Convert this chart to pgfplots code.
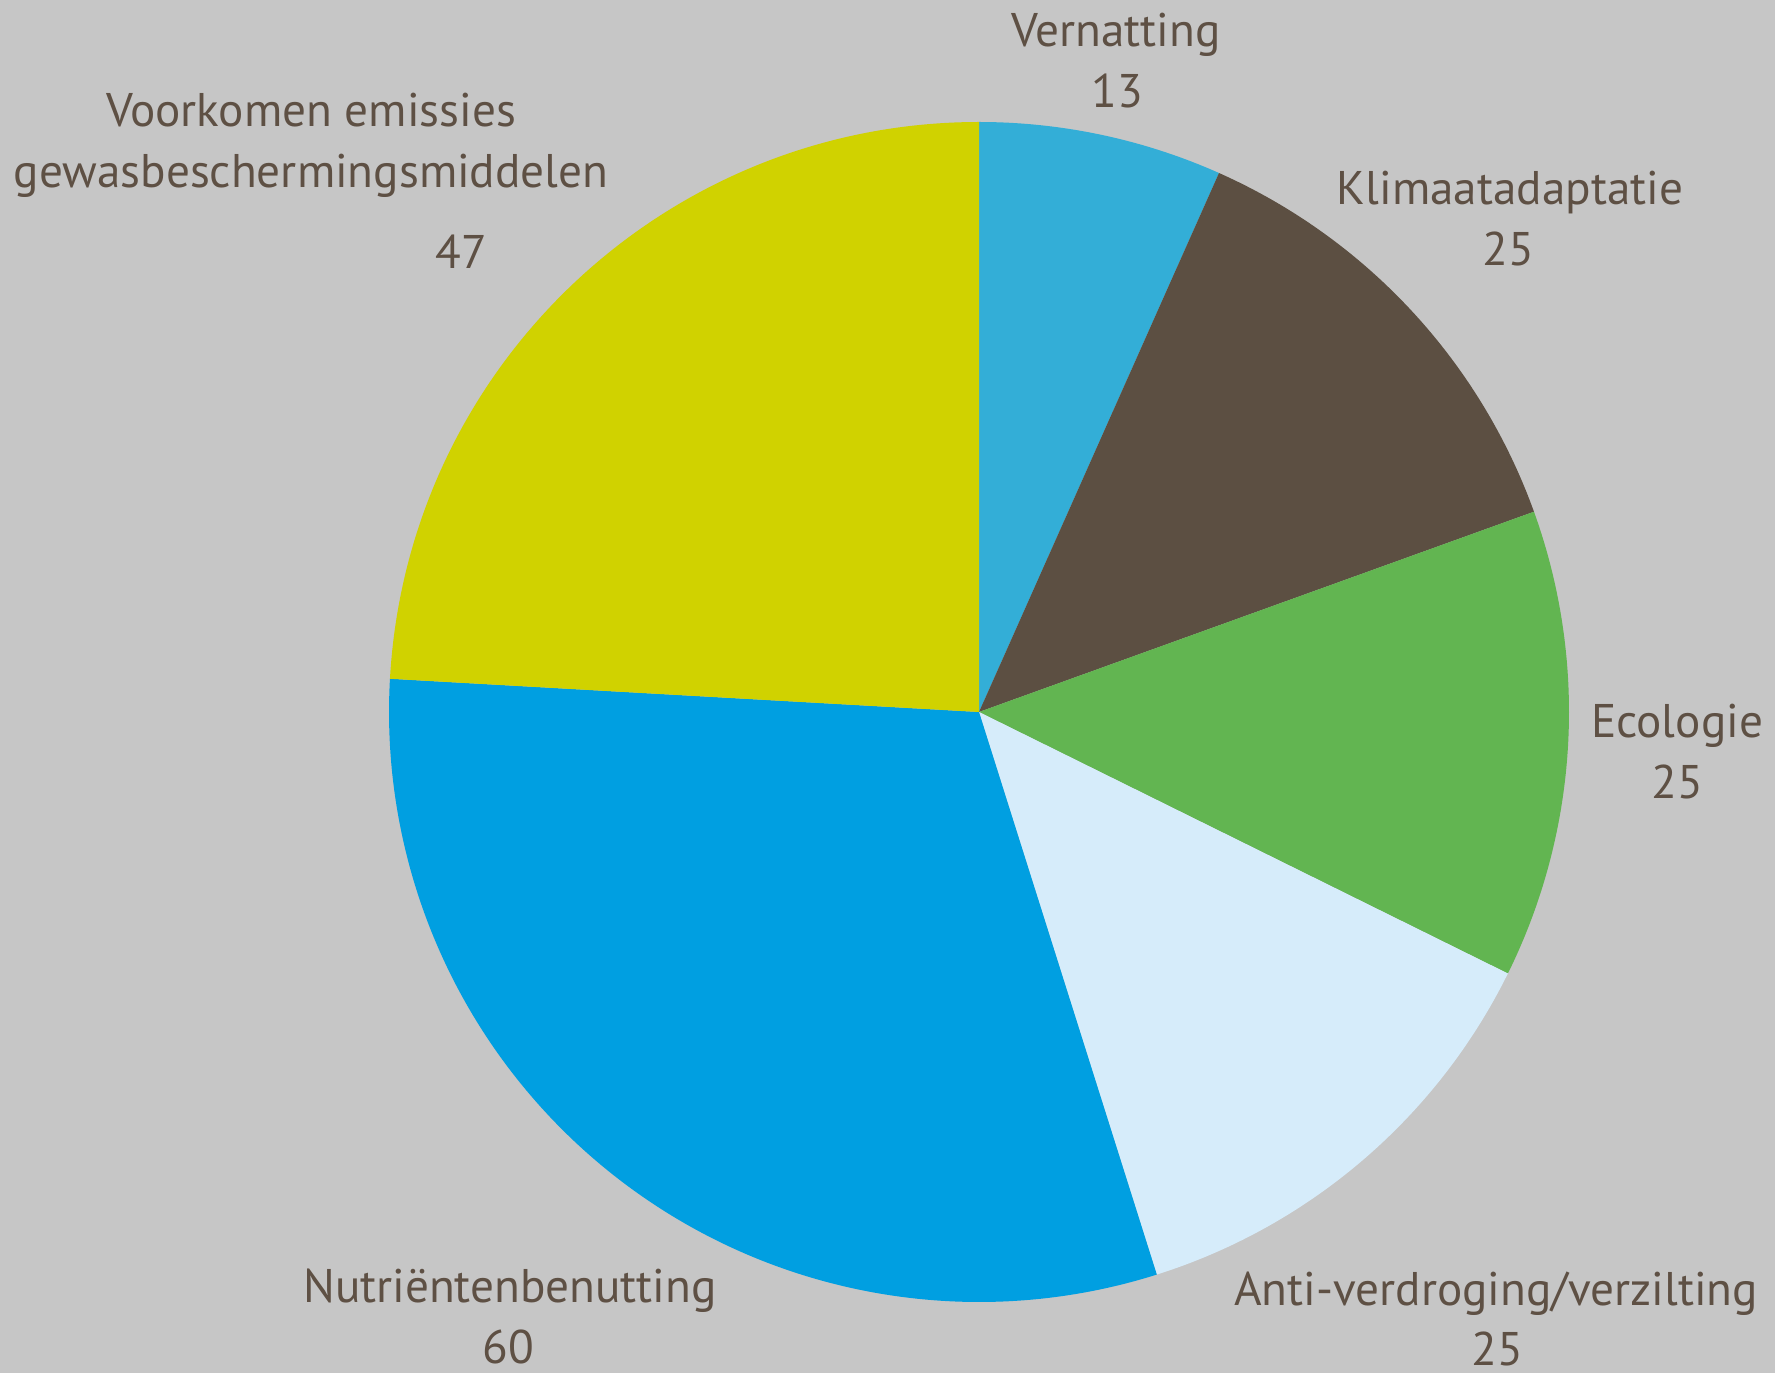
\documentclass[border=0pt]{standalone}
\usepackage{pgfplots}
\usepackage{pgfplotstable}
\pgfplotsset{compat=1.18}
\usepackage{fontspec}
\setmainfont{PT Sans}
\definecolor{bgc}{HTML}{C6C6C6}
\definecolor{txt}{HTML}{5E5044}
\definecolor{cA}{HTML}{33AED7}
\definecolor{cB}{HTML}{5C4F42}
\definecolor{cC}{HTML}{62B551}
\definecolor{cD}{HTML}{D6ECFA}
\definecolor{cE}{HTML}{009FE1}
\definecolor{cF}{HTML}{D0D200}
\pgfplotstableread{
idx value
0 13
1 25
2 25
3 25
4 60
5 47
}\piedata
\begin{document}
\begin{tikzpicture}[x=0.25pt,y=0.25pt]
\fill[bgc] (0,0) rectangle (1775,1373);
\useasboundingbox (0,0) rectangle (1775,1373);
\def\cum{0}
\foreach \i/\n in {0/a,1/b,2/c,3/d,4/e,5/f}{
  \pgfplotstablegetelem{\i}{value}\of\piedata
  \pgfmathsetmacro\s{90-\cum/195*360}
  \pgfmathsetmacro\newcum{\cum+\pgfplotsretval}
  \pgfmathsetmacro\e{90-\newcum/195*360}
  \expandafter\xdef\csname sS\n\endcsname{\s}
  \expandafter\xdef\csname sE\n\endcsname{\e}
  \xdef\cum{\newcum}
}
\begin{axis}[at={(0,0)},anchor=south west,x=0.25pt,y=0.25pt,
  xmin=0,xmax=1775,ymin=0,ymax=1373,hide axis,clip=false]
\fill[cA] (axis cs:979,661) -- ++(\sSa:147.5pt) arc[start angle=\sSa,end angle=\sEa,radius=147.5pt] -- cycle;
\fill[cB] (axis cs:979,661) -- ++(\sSb:147.5pt) arc[start angle=\sSb,end angle=\sEb,radius=147.5pt] -- cycle;
\fill[cC] (axis cs:979,661) -- ++(\sSc:147.5pt) arc[start angle=\sSc,end angle=\sEc,radius=147.5pt] -- cycle;
\fill[cD] (axis cs:979,661) -- ++(\sSd:147.5pt) arc[start angle=\sSd,end angle=\sEd,radius=147.5pt] -- cycle;
\fill[cE] (axis cs:979,661) -- ++(\sSe:147.5pt) arc[start angle=\sSe,end angle=\sEe,radius=147.5pt] -- cycle;
\fill[cF] (axis cs:979,661) -- ++(\sSf:147.5pt) arc[start angle=\sSf,end angle=\sEf,radius=147.5pt] -- cycle;
\begin{scope}[every node/.style={anchor=base,text=txt,font=\fontsize{11.8pt}{14pt}\selectfont,inner sep=0pt}]
\node at (axis cs:1116,1326) {Vernatting};
\node at (axis cs:1117,1265) {13};
\node at (axis cs:1510,1168) {Klimaatadaptatie};
\node at (axis cs:1508,1107) {25};
\node at (axis cs:1677,636) {Ecologie};
\node at (axis cs:1677,575) {25};
\node at (axis cs:1496,68) {Anti-verdroging/verzilting};
\node at (axis cs:1497,8) {25};
\node at (axis cs:510,71) {Nutriëntenbenutting};
\node at (axis cs:508,10) {60};
\node at (axis cs:311,1246) {Voorkomen emissies};
\node at (axis cs:311,1185) {gewasbeschermingsmiddelen};
\node at (axis cs:461,1104) {47};
\end{scope}
\end{axis}
\end{tikzpicture}
\end{document}
